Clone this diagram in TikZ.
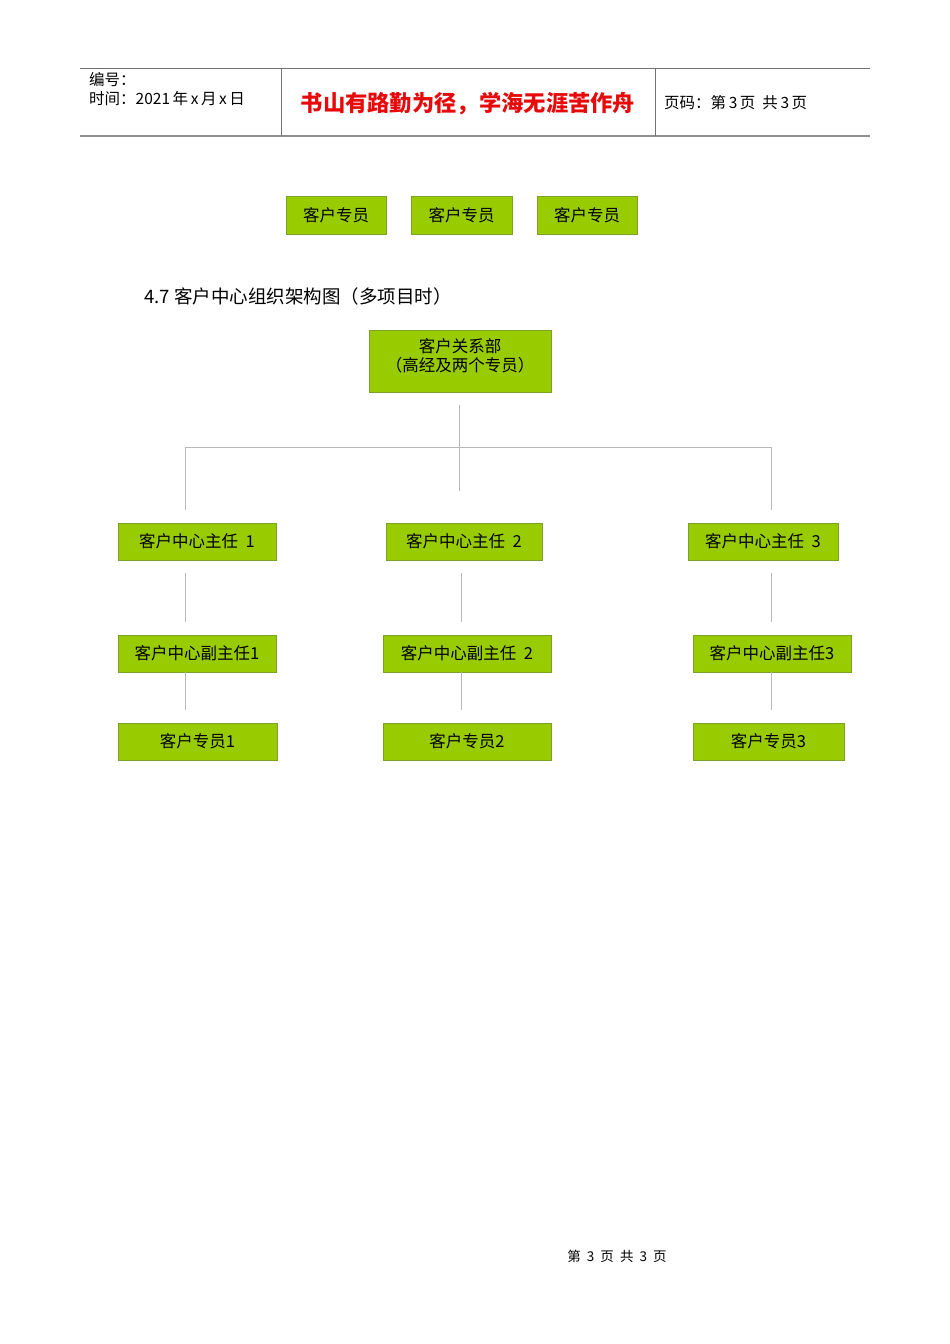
\documentclass[tikz,border=0pt]{standalone}
\usepackage{fontspec}
\setmainfont{Noto Sans CJK SC}
\usetikzlibrary{positioning}
\definecolor{BoxGruen}{RGB}{153,204,0}
\definecolor{BoxRand}{RGB}{125,160,40}
\definecolor{LinieGrau}{gray}{0.72}
\definecolor{KopfGrau}{gray}{0.45}
\definecolor{KopfRot}{RGB}{230,10,10}

\begin{document}
\begin{tikzpicture}[x=1pt, y=-1pt,
  box/.style={draw=BoxRand, fill=BoxGruen, line width=0.7pt, inner sep=0pt, minimum height=37pt, font=\fontsize{16.5}{19}\selectfont},
  link/.style={draw=LinieGrau, line width=0.7pt},
  kopf/.style={anchor=west, inner sep=0pt, font=\fontsize{15.5}{18}\selectfont}]
\useasboundingbox (0,0) rectangle (950,1344);
% page header
\draw[KopfGrau, line width=0.8pt] (80,68) -- (870,68);
\draw[KopfGrau!80, line width=1.8pt] (80,136) -- (870,136);
\draw[KopfGrau, line width=0.8pt] (281,68) -- (281,136);
\draw[KopfGrau, line width=0.8pt] (655,68) -- (655,136);
\node[kopf] (nr) at (89,80) {编号：};
\node[kopf] (datum) at (89,99) {时间：2021\,年\,x\,月\,x\,日};
\node[inner sep=0pt, text=KopfRot, font=\fontsize{22.3}{25}\selectfont\bfseries] (motto) at (468,104) {书山有路勤为径，学海无涯苦作舟};
\node[kopf] (seite) at (664,103) {页码：第\,3\,页\ \ 共\,3\,页};
% leftover row from previous chart
\foreach \i/\x/\w in {1/336/100, 2/461.5/101, 3/587/100}
  \node[box, minimum width=\w pt, minimum height=38pt] (k\i) at (\x,215) {客户专员};
\node[anchor=west, inner sep=0pt, font=\fontsize{18.5}{21}\selectfont] (titel) at (144,296) {4.7\ 客户中心组织架构图（多项目时）};
% chart
\node[box, minimum width=182pt, minimum height=62pt,
  label={[align=center, yshift=5pt, font=\fontsize{16.5}{19}\selectfont]center:客户关系部\\（高经及两个专员）}] (root) at (460,361) {};
\foreach \i/\x/\w/\t in {1/197/158/{客户中心主任\ \ 1}, 2/464/156/{客户中心主任\ \ 2}, 3/763/150/{客户中心主任\ \ 3}}
  \node[box, minimum width=\w pt] (m\i) at (\x,541.5) {\t};
\foreach \i/\x/\w/\t in {1/197/158/{客户中心副主任1}, 2/467/168/{客户中心副主任\ \ 2}, 3/772/158/{客户中心副主任3}}
  \node[box, minimum width=\w pt] (d\i) at (\x,653.5) {\t};
\foreach \i/\x/\w in {1/197.5/159, 2/467/168, 3/768.5/151}
  \node[box, minimum width=\w pt] (s\i) at (\x,741.5) {客户专员\i};
\coordinate (c1) at (185,447);
\coordinate (c2) at (461,447);
\coordinate (c3) at (771,447);
\draw[link] ([xshift=-1pt, yshift=-13pt]root.south) -- ([xshift=-1pt, yshift=-99pt]root.south);
\draw[link] (c1) -- (c3);
\draw[link, shorten >=13pt] (c1) -- (c1 |- m1.north);
\draw[link, shorten >=13pt] (c3) -- (c3 |- m3.north);
\foreach \i in {1,2,3}
{
  \draw[link, shorten <=13pt, shorten >=13pt] (c\i |- m\i.south) -- (c\i |- d\i.north);
  \draw[link, shorten >=13pt] (c\i |- d\i.south) -- (c\i |- s\i.north);
}
% page footer
\node[inner sep=0pt, font=\fontsize{13.5}{15}\selectfont] (fuss) at (617,1256) {第\ \ 3\ \ 页\ \ 共\ \ 3\ \ 页};
\end{tikzpicture}
\end{document}
